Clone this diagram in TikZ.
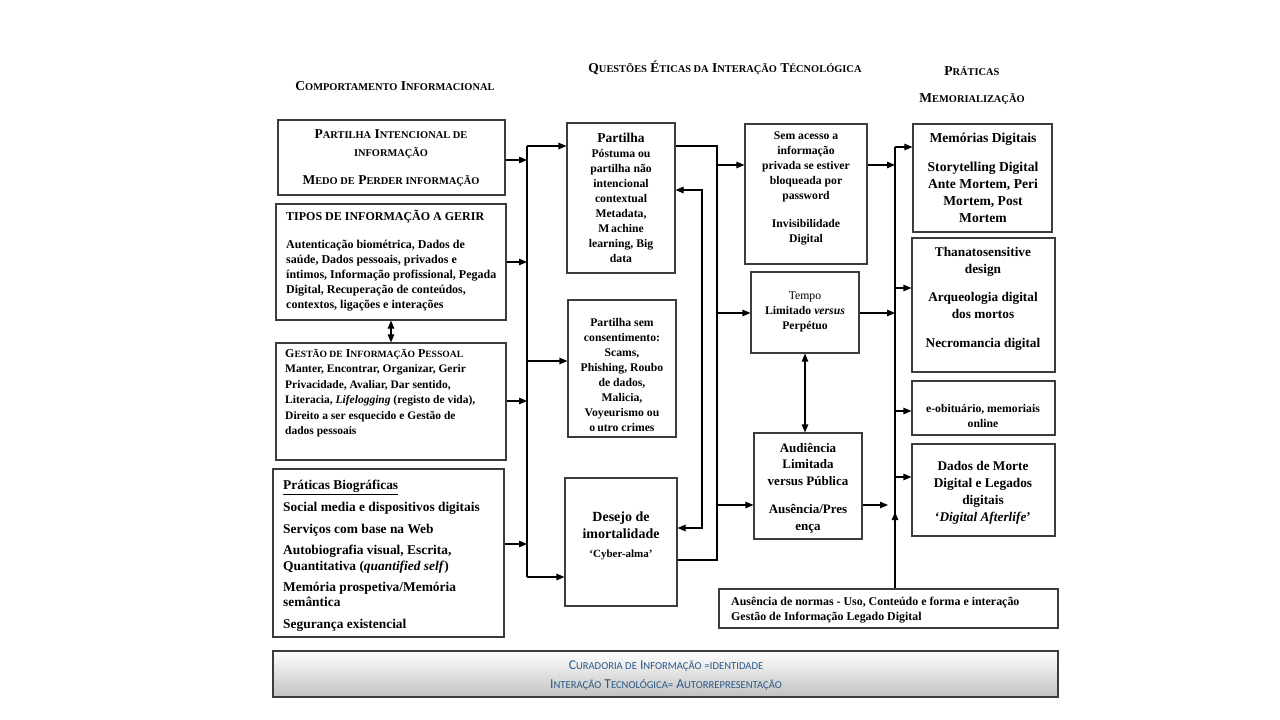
\documentclass[tikz,border=0pt]{standalone}
\usepackage{fontspec}
\setmainfont{Liberation Serif}
\newfontfamily\calib{Carlito}
\usetikzlibrary{arrows.meta,fit}
\definecolor{boxgray}{HTML}{3C3C3C}
\definecolor{bluet}{HTML}{2A5888}
\newcommand\sm[1]{{\fontsize{10.4}{11}\selectfont #1}}
\newcommand\bsm[1]{{\fontsize{10.6}{12}\selectfont #1}}
\begin{document}
\begin{tikzpicture}[x=1pt,y=-1pt,
 box/.style={draw=boxgray,line width=1.1pt,inner sep=0pt},
 txt/.style={align=center,inner sep=0pt,font=\bfseries\fontsize{11.7}{15}\selectfont},
 ltxt/.style={align=left,inner sep=0pt,anchor=west,font=\bfseries\fontsize{11.5}{15.5}\selectfont},
 conn/.style={line width=1.1pt},
 arr/.style={conn,-{Triangle[length=8pt,width=6.5pt]}},
 darr/.style={conn,{Triangle[length=8pt,width=6.5pt]}-{Triangle[length=8pt,width=6.5pt]}},
 head/.style={inner sep=0pt,font=\bfseries\fontsize{13.5}{15}\selectfont}
]
\useasboundingbox (0,0) rectangle (1280,720);
\fill[white] (0,0) rectangle (1280,720);

% headers
\node[head] (h1) at (395,86) {C\sm{OMPORTAMENTO} I\sm{NFORMACIONAL}};
\node[head] (h2) at (725,68) {Q\sm{UESTÕES} É\sm{TICAS DA} I\sm{NTERAÇÃO} T\sm{ÉCNOLÓGICA}};
\node[head] (h3) at (972,71) {P\sm{RÁTICAS}};
\node[head] (h4) at (972,99) {M\sm{EMORIALIZAÇÃO}};

% boxes
\node[box,fit={(278,120)(505,195)}] (A) {};
\node[box,fit={(276,204)(506,320)}] (B) {};
\node[box,fit={(276,343)(506,460)}] (C) {};
\node[box,fit={(273,469)(504,637)}] (D) {};
\node[box,fit={(567,123)(675,273)}] (P1) {};
\node[box,fit={(568,300)(676,437)}] (P2) {};
\node[box,fit={(565,478)(677,606)}] (P3) {};
\node[box,fit={(745,124)(867,264)}] (S) {};
\node[box,fit={(751,272)(859,353)}] (T) {};
\node[box,fit={(754,433)(862,539)}] (Au) {};
\node[box,fit={(719,589)(1058,628)}] (N) {};
\node[box,fit={(913,124)(1052,232)}] (M1) {};
\node[box,fit={(912,238)(1055,372)}] (M2) {};
\node[box,fit={(912,381)(1055,435)}] (M3) {};
\node[box,fit={(912,444)(1055,536)}] (M4) {};
\node[box,fit={(273,651)(1058,697)},top color=white,bottom color=black!24] (Z) {};

% texts
\node[txt,font=\bfseries\fontsize{13.5}{18}\selectfont] (At) at (391,158)
 {P\sm{ARTILHA} I\sm{NTENCIONAL DE}\\ \sm{INFORMAÇÃO}\\[10pt] M\sm{EDO DE} P\sm{ERDER INFORMAÇÃO}};
\node[ltxt,font=\bfseries\fontsize{12}{15.2}\selectfont] (Bt) at (286,261)
 {{\fontsize{12}{15}\selectfont TIPOS DE INFORMAÇÃO A GERIR}\\[12pt]
  Autenticação biométrica, Dados de\\
  saúde, Dados pessoais, privados e\\
  íntimos, Informação profissional, Pegada\\
  Digital, Recuperação de conteúdos,\\
  contextos, ligações e interações};
\node[ltxt] (Ct) at (285,393)
 {{\fontsize{12}{15}\selectfont G{\fontsize{9.6}{10}\selectfont ESTÃO DE} I{\fontsize{9.6}{10}\selectfont NFORMAÇÃO} P{\fontsize{9.6}{10}\selectfont ESSOAL}}\\[0pt]
  Manter, Encontrar, Organizar, Gerir\\
  Privacidade, Avaliar, Dar sentido,\\
  Literacia, \textit{Lifelogging} (registo de vida),\\
  Direito a ser esquecido e Gestão de\\
  dados pessoais};
\node[ltxt,font=\bfseries\fontsize{13.4}{15.2}\selectfont] (Dt) at (283,556)
 {\underline{Práticas Biográficas}\\[6.5pt]
  Social media e dispositivos digitais\\[6.5pt]
  Serviços com base na Web\\[6.5pt]
  Autobiografia visual, Escrita,\\
  Quantitativa (\textit{quantified self})\\[6.5pt]
  Memória prospetiva/Memória\\
  semântica\\[6.5pt]
  Segurança existencial};
\node[txt] (P1t) at (621,198)
 {{\fontsize{13.5}{15}\selectfont Partilha}\\
  Póstuma ou\\ partilha não\\ intencional\\ contextual\\ Metadata,\\ M\,achine\\ learning, Big\\ data};
\node[txt] (P2t) at (622,375)
 {Partilha sem\\ consentimento:\\ Scams,\\ Phishing, Roubo\\ de dados,\\ Malicia,\\ Voyeurismo ou\\ o\,utro crimes};
\node[txt,font=\bfseries\fontsize{14}{17}\selectfont] (P3t) at (621,536)
 {Desejo de\\ imortalidade\\[2pt] {\fontsize{11}{13}\selectfont ‘Cyber-alma’}};
\node[txt] (St) at (806,188)
 {Sem acesso a\\ informação\\ privada se estiver\\ bloqueada por\\ password\\[13pt] Invisibilidade\\ Digital};
\node[txt] (Tt) at (805,312)
 {{\mdseries Tempo}\\ Limitado \textit{versus}\\ Perpétuo};
\node[txt,font=\bfseries\fontsize{13}{16.5}\selectfont] (Aut) at (808,488)
 {Audiência\\ Limitada\\ versus Pública\\[12pt] Ausência/Pres\\ ença};
\node[ltxt,font=\bfseries\fontsize{11.9}{14.5}\selectfont] (Nt) at (731,610)
 {Ausência de normas - Uso, Conteúdo e forma e interação\\ Gestão de Informação Legado Digital};
\node[txt,font=\bfseries\fontsize{13.6}{17}\selectfont] (M1t) at (983,178)
 {Memórias Digitais\\[12pt] Storytelling Digital\\ Ante Mortem, Peri\\ Mortem, Post\\ Mortem};
\node[txt,font=\bfseries\fontsize{13.3}{17}\selectfont] (M2t) at (983,298.5)
 {Thanatosensitive\\ design\\[11pt] Arqueologia digital\\ dos mortos\\[12pt] Necromancia digital};
\node[txt] (M3t) at (983,416)
 {e-obituário, memoriais\\ online};
\node[txt,font=\bfseries\fontsize{13.3}{17}\selectfont] (M4t) at (983,492.5)
 {Dados de Morte\\ Digital e Legados\\ digitais\\ ‘\textit{Digital Afterlife}’};
\node[align=center,inner sep=0pt,text=bluet,font=\calib\fontsize{13.6}{19}\selectfont] (Zt) at (666,675)
 {C\bsm{URADORIA DE} I\bsm{NFORMAÇÃO} \bsm{=IDENTIDADE}\\
  I\bsm{NTERAÇÃO} T\bsm{ECNOLÓGICA}\bsm{=} A\bsm{UTORREPRESENTAÇÃO}};

% left bus
\coordinate (bl1) at (527,146);
\coordinate (bl2) at (527,577);
\coordinate (yA) at (0,160);
\coordinate (yB) at (0,262);
\coordinate (yC) at (0,401);
\coordinate (yD) at (0,544);
\coordinate (yP2) at (0,361);
\draw[conn] (bl1) -- (bl2);
\draw[arr] (A.east |- yA) -- (bl1 |- yA);
\draw[arr] (B.east |- yB) -- (bl1 |- yB);
\draw[arr] (C.east |- yC) -- (bl1 |- yC);
\draw[arr] (D.east |- yD) -- (bl1 |- yD);
\draw[arr] (bl1) -- (P1.west |- bl1);
\draw[arr] (bl1 |- yP2) -- (P2.west |- yP2);
\draw[arr] (bl2) -- (P3.west |- bl2);
\draw[darr] (B.south) -- (B.south |- C.north);

% middle connectors
\coordinate (m1) at (717,146);
\coordinate (m2) at (717,560);
\coordinate (yS) at (0,165);
\coordinate (yT) at (0,313);
\coordinate (yAu) at (0,505);
\draw[conn] (P1.east |- m1) -- (m1) -- (m2) -- (P3.east |- m2);
\draw[arr] (m1 |- yS) -- (S.west |- yS);
\draw[arr] (m1 |- yT) -- (T.west |- yT);
\draw[arr] (m1 |- yAu) -- (Au.west |- yAu);
\coordinate (f1) at (702,190);
\coordinate (f2) at (702,528);
\draw[arr] (f2) -- (f1) -- (P1.east |- f1);
\draw[arr] (f1) -- (f2) -- (P3.east |- f2);
\draw[darr] (T.south) -- (T.south |- Au.north);

% right bus
\coordinate (r1) at (895,147);
\coordinate (yN) at (0,512);
\coordinate (yM2) at (0,288);
\coordinate (yM3) at (0,411);
\coordinate (yM4) at (0,477);
\coordinate (auend) at (888,505);
\draw[conn] (r1) -- (N.north -| r1);
\draw[arr] (N.north -| r1) -- (r1 |- yN);
\draw[arr] (r1) -- (M1.west |- r1);
\draw[arr] (S.east |- yS) -- (r1 |- yS);
\draw[arr] (T.east |- yT) -- (r1 |- yT);
\draw[arr] (Au.east |- yAu) -- (auend);
\draw[arr] (r1 |- yM2) -- (M2.west |- yM2);
\draw[arr] (r1 |- yM3) -- (M3.west |- yM3);
\draw[arr] (r1 |- yM4) -- (M4.west |- yM4);
\end{tikzpicture}
\end{document}
